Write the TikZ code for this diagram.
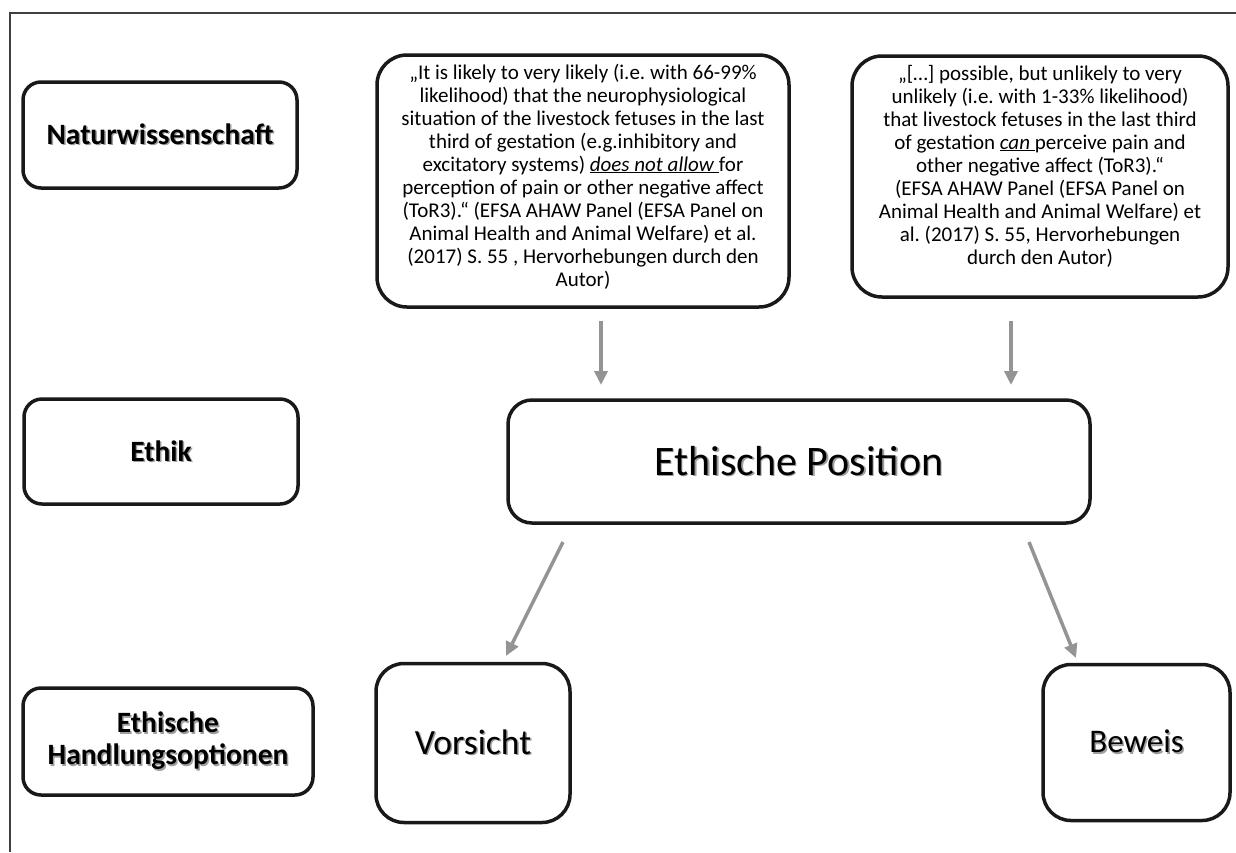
\documentclass[tikz,border=0pt]{standalone}
\usepackage{fontspec}
\setmainfont{Carlito}
\usetikzlibrary{arrows.meta}
\frenchspacing
\newcommand\shtext[1]{\makebox[0pt][l]{\hspace{1.5pt}\raisebox{-1.5pt}{\color{black!38}#1}}#1}
\newcommand\liftblock[2]{\raisebox{0pt}[\height][\dimexpr\depth+#1\relax]{\begin{tabular}{@{}c@{}}#2\end{tabular}}}
\begin{document}
\begin{tikzpicture}[x=1pt,y=-1pt,
 box/.style={draw=black!90, line width=3.5pt, rounded corners=18pt, align=center, inner sep=0pt},
 bigbox/.style={box, rounded corners=30pt},
 arr/.style={draw=black!42, line width=3.5pt, -{Triangle[width=13pt,length=14pt]}},
 lab/.style={font=\fontsize{29.5}{32}\selectfont\bfseries},
 quote/.style={font=\fontsize{21}{23}\selectfont}]
\useasboundingbox (0,0) rectangle (1236,852);
\draw[black!75, line width=1.5pt] (1236,13) -- (10,13) -- (10,852);

% left column
\node[box, lab, minimum width=274pt, minimum height=106pt] (nat) at (160,135) {\shtext{Naturwissenschaft}};
\node[box, lab, minimum width=274pt, minimum height=105pt] (eth) at (161,451.5) {\shtext{Ethik}};
\node[box, lab, minimum width=290pt, minimum height=107pt] (hand) at (168,741.5) {\shtext{Ethische}\\\shtext{Handlungsoptionen}};

% quotes
\node[bigbox, quote, minimum width=412pt, minimum height=252pt] (q1) at (583,181) {\liftblock{6pt}{%
„It is likely to very likely (i.e. with 66-99\%\\
likelihood) that the neurophysiological\\
situation of the livestock fetuses in the last\\
third of gestation (e.g.inhibitory and\\
excitatory systems) \underline{\textit{does not allow}\ }for\\
perception of pain or other negative affect\\
(ToR3).“ (EFSA AHAW Panel (EFSA Panel on\\
Animal Health and Animal Welfare) et al.\\
(2017) S. 55 , Hervorhebungen durch den\\
Autor)}};
\node[bigbox, quote, minimum width=376pt, minimum height=241pt] (q2) at (1040,176.5) {\liftblock{18pt}{%
„[…] possible, but unlikely to very\\
unlikely (i.e. with 1-33\% likelihood)\\
that livestock fetuses in the last third\\
of gestation \underline{\textit{can}\ }perceive pain and\\
other negative affect (ToR3).“\\
(EFSA AHAW Panel (EFSA Panel on\\
Animal Health and Animal Welfare) et\\
al. (2017) S. 55, Hervorhebungen\\
durch den Autor)}};

% ethical position
\node[box, rounded corners=24pt, font=\fontsize{42}{48}\selectfont, minimum width=582pt, minimum height=123pt] (pos) at (799,461.5) {\shtext{Ethische Position}};

% options
\node[box, rounded corners=28pt, font=\fontsize{35.5}{40}\selectfont, minimum width=194pt, minimum height=159pt] (vor) at (473,743) {\shtext{Vorsicht}};
\node[box, rounded corners=28pt, font=\fontsize{33}{38}\selectfont, minimum width=187pt, minimum height=156pt] (bew) at (1136.5,742.5) {\shtext{Beweis}};

% arrows
\coordinate (a1s) at (601,321); \coordinate (a1e) at (601,385);
\coordinate (a2s) at (1011,321); \coordinate (a2e) at (1011,385);
\coordinate (a3s) at (563,542); \coordinate (a3e) at (506,656);
\coordinate (a4s) at (1029,542); \coordinate (a4e) at (1076,658);
\draw[arr] (a1s) -- (a1e);
\draw[arr] (a2s) -- (a2e);
\draw[arr] (a3s) -- (a3e);
\draw[arr] (a4s) -- (a4e);
\end{tikzpicture}
\end{document}
